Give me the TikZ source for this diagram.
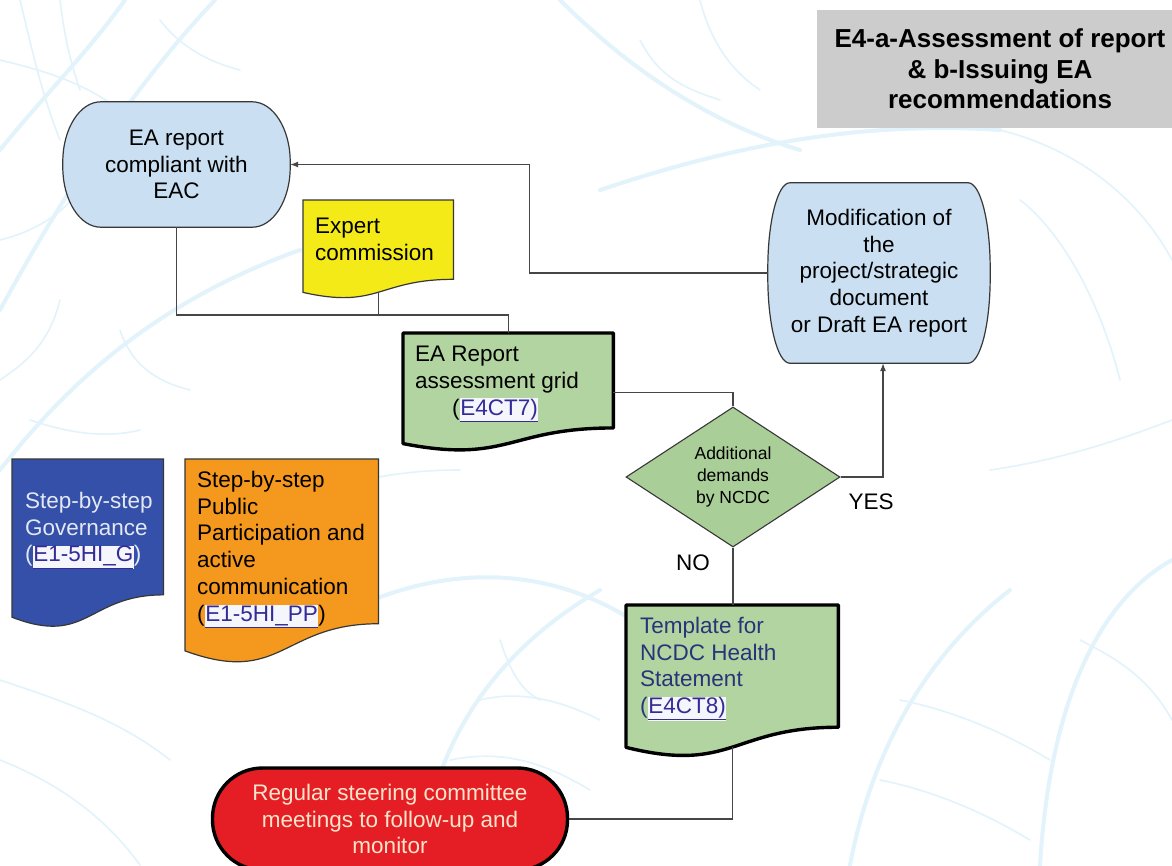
\documentclass[tikz,border=0pt]{standalone}
\usepackage{fontspec}
\setmainfont{Liberation Sans}
\usetikzlibrary{calc,shapes.geometric,arrows.meta}
\pgfdeclarelayer{veins}
\pgfdeclarelayer{background}
\pgfsetlayers{veins,background,main}

\definecolor{paleblue}{RGB}{202,223,241}
\definecolor{docyellow}{RGB}{243,234,24}
\definecolor{docgreen}{RGB}{178,212,160}
\definecolor{diagreen}{RGB}{170,206,152}
\definecolor{docblue}{RGB}{52,80,168}
\definecolor{docorange}{RGB}{245,152,30}
\definecolor{termred}{RGB}{228,30,36}
\definecolor{titlegray}{RGB}{204,204,204}
\definecolor{linegray}{RGB}{70,70,70}
\definecolor{edgegray}{RGB}{55,55,55}
\definecolor{linkblue}{RGB}{52,44,150}
\definecolor{linkbg}{RGB}{244,246,252}
\definecolor{navytext}{RGB}{40,52,122}
\definecolor{creamtext}{RGB}{252,228,204}
\definecolor{palewhite}{RGB}{228,232,244}
\definecolor{veinblue}{RGB}{226,243,251}

% underlined reference on a pale highlight
\newcommand{\reflink}[1]{{\setlength{\fboxsep}{0.6pt}\colorbox{linkbg}{\color{linkblue}\underline{#1}}}}

% flowchart "document" outline built from a frame node
\newcommand{\docpath}[2]{%
  \path[#2] (#1.north west) -- (#1.north east)
    -- ($(#1.north east)!0.802!(#1.south east)$)
    .. controls ($(#1.north)!0.802!(#1.south)$) and ($(#1.north)!1.107!(#1.south)$)
    .. ($(#1.north west)!0.934!(#1.south west)$) -- cycle;}

% box with elliptical corners around a node: name, x radius, y radius, style
\newcommand{\ovalpath}[4]{%
  \path[#4] ($(#1.north west)+(#2,0)$) -- ($(#1.north east)+(-#2,0)$)
    arc[start angle=-90, end angle=0, x radius=#2, y radius=#3]
    -- ($(#1.south east)+(0,-#3)$)
    arc[start angle=0, end angle=90, x radius=#2, y radius=#3]
    -- ($(#1.south west)+(#2,0)$)
    arc[start angle=90, end angle=180, x radius=#2, y radius=#3]
    -- ($(#1.north west)+(0,#3)$)
    arc[start angle=180, end angle=270, x radius=#2, y radius=#3] -- cycle;}

\tikzset{
  body/.style={font=\fontsize{22.5}{26.7}\selectfont},
  term/.style={body, draw=none, fill=none, align=center, inner sep=0pt},
  termedge/.style={draw=edgegray, line width=1.2pt, fill=paleblue},
  docframe/.style={rectangle, draw=none, fill=none, inner sep=0pt, anchor=north west},
  doctext/.style={body, anchor=north west, align=left, inner sep=0pt},
  thinedge/.style={draw=edgegray, line width=1.2pt},
  thickedge/.style={draw=black, line width=3.4pt, line join=round},
  flow/.style={draw=linegray, line width=1.1pt},
  arr/.style={flow, -{Latex[length=8pt,width=6pt]}},
  branch/.style={body, inner sep=0pt},
  vein/.style={draw=veinblue, line width=1.6pt, line cap=round},
  mainvein/.style={draw=veinblue, line width=4pt, line cap=round},
}

\begin{document}
\begin{tikzpicture}[x=1pt,y=-1pt]
\useasboundingbox (0,0) rectangle (1172,865);

% white page and faint leaf-vein backdrop
\begin{pgfonlayer}{veins}
  \fill[white] (0,0) rectangle (1172,865);
  \path[mainvein] (0,310) .. controls (60,200) and (130,90) .. (215,0);
  \path[mainvein] (0,150) .. controls (40,100) and (90,50) .. (125,0);
  \path[mainvein] (0,470) .. controls (70,380) and (160,300) .. (300,250);
  \path[vein] (0,60) .. controls (40,70) and (80,80) .. (120,110);
  \path[vein] (0,240) .. controls (40,230) and (70,210) .. (95,170);
  \path[vein] (20,0) .. controls (30,40) and (40,90) .. (60,140);
  \path[vein] (60,0) .. controls (65,40) and (70,60) .. (80,90);
  \path[vein] (160,20) .. controls (175,40) and (200,60) .. (240,70);
  \path[vein] (100,120) .. controls (120,150) and (150,160) .. (190,170);
  \path[vein] (0,380) .. controls (30,360) and (50,340) .. (60,300);
  \path[vein] (30,420) .. controls (60,430) and (100,440) .. (140,430);
  \path[vein] (120,330) .. controls (130,360) and (150,380) .. (190,390);
  \path[mainvein] (560,0) .. controls (620,60) and (700,120) .. (800,150);
  \path[mainvein] (600,190) .. controls (720,150) and (850,120) .. (1000,130);
  \path[vein] (640,40) .. controls (660,80) and (690,90) .. (720,100);
  \path[vein] (700,0) .. controls (710,40) and (730,70) .. (760,90);
  \path[vein] (1000,130) .. controls (1080,150) and (1140,200) .. (1172,260);
  \path[vein] (1020,200) .. controls (1060,230) and (1100,300) .. (1120,380);
  \path[vein] (1172,420) .. controls (1120,440) and (1060,460) .. (990,470);
  \path[mainvein] (330,620) .. controls (440,560) and (560,560) .. (660,640);
  \path[mainvein] (420,865) .. controls (430,760) and (480,660) .. (600,590);
  \path[vein] (480,700) .. controls (520,690) and (560,700) .. (600,720);
  \path[vein] (450,760) .. controls (500,750) and (540,760) .. (590,790);
  \path[vein] (500,640) .. controls (510,670) and (520,690) .. (540,700);
  \path[vein] (0,680) .. controls (60,700) and (120,720) .. (170,760);
  \path[vein] (0,760) .. controls (50,780) and (100,810) .. (140,865);
  \path[mainvein] (850,865) .. controls (870,760) and (920,660) .. (1010,590);
  \path[mainvein] (1172,560) .. controls (1100,600) and (1050,700) .. (1040,865);
  \path[vein] (900,700) .. controls (950,710) and (1000,730) .. (1050,760);
  \path[vein] (880,780) .. controls (930,790) and (980,810) .. (1030,840);
  \path[vein] (1080,640) .. controls (1120,660) and (1150,680) .. (1172,720);
  \path[vein] (300,500) .. controls (350,480) and (400,470) .. (460,470);
\end{pgfonlayer}

% title
\node[fill=titlegray, minimum width=366pt, minimum height=118pt, inner sep=0pt,
      align=center, font=\bfseries\fontsize{26}{30.5}\selectfont]
  (title) at (1000,69) {E4-a-Assessment of report\\\& b-Issuing EA\\recommendations};

% terminal and process boxes
\node[term, minimum width=227pt, minimum height=125pt]
  (eac) at (176.5,164.5) {EA report\\compliant with\\EAC};
\node[term, minimum width=222pt, minimum height=180pt]
  (modif) at (879,273) {Modification of\\the\\project/strategic\\document\\or Draft EA report};
\node[body, align=center, inner sep=0pt, draw=black, line width=3.4pt, fill=termred,
      text=creamtext, minimum width=355pt, minimum height=102pt, rounded corners=50pt]
  (steer) at (390,819) {Regular steering committee\\meetings to follow-up and\\monitor};

\begin{pgfonlayer}{background}
  \ovalpath{eac}{38}{60}{termedge}
  \ovalpath{modif}{22}{86}{termedge}
\end{pgfonlayer}

% decision
\node[diamond, aspect=1.53, draw=edgegray, line width=1.1pt, fill=diagreen,
      minimum width=214pt, minimum height=140pt, inner sep=0pt, align=center,
      font=\fontsize{17.5}{21.8}\selectfont]
  (dia) at (733,477) {Additional\\demands\\by NCDC};

% document frames
\node[docframe, minimum width=150pt, minimum height=98.5pt] (expert) at (303,200) {};
\node[docframe, minimum width=210pt, minimum height=118pt] (grid) at (403,333) {};
\node[docframe, minimum width=151pt, minimum height=169pt] (gov) at (12,459) {};
\node[docframe, minimum width=193pt, minimum height=205pt] (pp) at (185,459) {};
\node[docframe, minimum width=212pt, minimum height=152pt] (tmpl) at (626,605) {};

\begin{pgfonlayer}{background}
  \docpath{expert}{thinedge, fill=docyellow}
  \docpath{grid}{thickedge, fill=docgreen}
  \docpath{gov}{thinedge, fill=docblue}
  \docpath{pp}{thinedge, fill=docorange}
  \docpath{tmpl}{thickedge, fill=docgreen}
\end{pgfonlayer}

% document texts
\node[doctext] (expertT) at (315,218) {Expert\\commission};
\node[doctext] (gridT) at (415,346) {EA Report\\assessment grid\\\hspace*{37pt}(\reflink{E4CT7)}};
\node[doctext, text=palewhite] (govT) at (25,492) {Step-by-step\\Governance\\(\reflink{E1-5HI\_G})};
\node[doctext] (ppT) at (197,471) {Step-by-step\\Public\\Participation and\\active\\communication\\(\reflink{E1-5HI\_PP})};
\node[doctext, text=navytext] (tmplT) at (640,617) {Template for\\NCDC Health\\Statement\\(\reflink{E4CT8)}};

% branch labels
\node[branch] (yes) at (871,502) {YES};
\node[branch] (no) at (693,563) {NO};

% connectors
\coordinate (bus) at ($(grid.north)+(0,-18)$);
\coordinate (expertbot) at ($(expert.north)!0.933!(expert.south)$);
\coordinate (tmplbot) at ($(tmpl.north)!0.933!(tmpl.south)$);

\draw[arr] (modif.west) -- ++(-238,0) |- (eac.east);
\draw[flow] (eac.south) |- (bus) -- (grid.north);
\draw[flow] (expertbot) -- (expertbot |- bus);
\draw[flow] (grid.east) -| (dia.north);
\draw[arr] (dia.east) -| ($(modif.south)+(4,0)$);
\draw[flow] (dia.south) -- (dia.south |- tmpl.north);
\draw[flow] (tmplbot) |- (steer.east);
\end{tikzpicture}
\end{document}
